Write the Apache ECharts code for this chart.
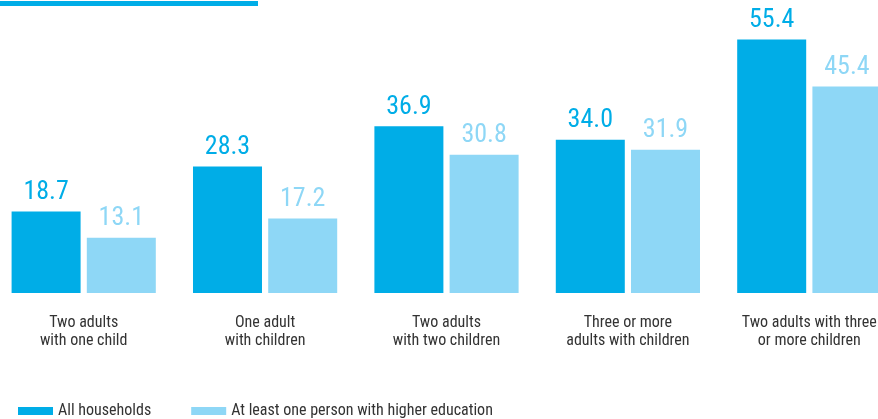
<!DOCTYPE html>
<html>
<head>
<meta charset="utf-8">
<script src="https://cdn.jsdelivr.net/npm/echarts@6/dist/echarts.min.js"></script>
<style>
  html, body { margin: 0; padding: 0; background: #fff; overflow: hidden; }
  #main { position: absolute; left: -7px; top: 0; width: 907px; height: 419px; }
</style>
</head>
<body>
<div id="main"></div>
<script>
var categories = [
  'Two adults\nwith one child',
  'One adult\nwith children',
  'Two adults\nwith two children',
  'Three or more\nadults with children',
  'Two adults with three\nor more children'
];
var allHouseholds = [18.7, 28.3, 36.9, 34.0, 55.4];
var higherEducation = [13.1, 17.2, 30.8, 31.9, 45.4];
var seriesNames = ['All households', 'At least one person with higher education'];

var darkBlue = '#00ADE7';
var lightBlue = '#8ED7F6';
var font = "'Liberation Sans Narrow', 'Roboto Condensed', 'Liberation Sans', sans-serif";

// the div is shifted 7px left so the last group can run off the right edge
var shift = 7;

var chart = echarts.init(document.getElementById('main'));

function labelFor(color) {
  return {
    show: true,
    position: 'top',
    distance: 6,
    color: color,
    fontSize: 26,
    fontFamily: font,
    formatter: function (p) { return p.value.toFixed(1); }
  };
}

chart.setOption({
  animation: false,
  graphic: [{
    type: 'rect',
    shape: { x: shift, y: 1, width: 258, height: 5 },
    style: { fill: darkBlue }
  }],
  legend: {
    left: 13 + shift,
    top: 398,
    itemWidth: 35,
    itemHeight: 8,
    itemGap: 40,
    icon: 'rect',
    textStyle: { fontSize: 16, color: '#333', fontFamily: font },
    data: seriesNames
  },
  grid: { left: 0, right: 0, top: 18, bottom: 126, containLabel: false },
  xAxis: {
    type: 'category',
    data: categories,
    axisLine: { show: false },
    axisTick: { show: false },
    axisLabel: {
      margin: 21,
      fontSize: 16,
      lineHeight: 18,
      color: '#333',
      fontFamily: font,
      interval: 0
    }
  },
  yAxis: {
    type: 'value',
    min: 1.3,
    max: 60,
    show: false,
    splitLine: { show: false }
  },
  series: [{
    name: seriesNames[0],
    type: 'bar',
    data: allHouseholds,
    barWidth: 69,
    barGap: '9%',
    itemStyle: { color: darkBlue },
    label: labelFor(darkBlue)
  }, {
    name: seriesNames[1],
    type: 'bar',
    data: higherEducation,
    barWidth: 69,
    barGap: '9%',
    itemStyle: { color: lightBlue },
    label: labelFor(lightBlue)
  }]
});
</script>
</body>
</html>
